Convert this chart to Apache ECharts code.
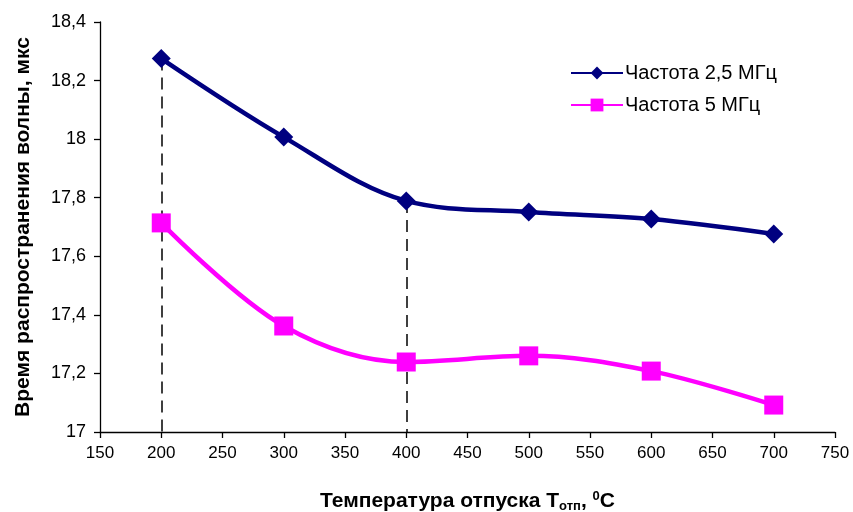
<!DOCTYPE html>
<html><head><meta charset="utf-8">
<script src="https://cdn.jsdelivr.net/npm/echarts@6/dist/echarts.min.js"></script>
<style>html,body{margin:0;padding:0;background:#fff}#c{width:853px;height:512px}</style>
</head><body><div id="c"></div>
<script>
const temps = [200, 300, 400, 500, 600, 700];
const freq25 = [18.275, 18.007, 17.789, 17.751, 17.727, 17.676];
const freq5 = [17.714, 17.362, 17.239, 17.26, 17.208, 17.092];
const seriesNames = ['Частота 2,5 МГц', 'Частота 5 МГц'];
const dashedAt = [200, 400];
const yMin = 17;

const chart = echarts.init(document.getElementById('c'));
const font = 'Liberation Sans, Arial, sans-serif';
const fmt = v => String(Math.round(v * 10) / 10).replace('.', ',');
const dashLines = dashedAt.map(x => {
  const i = temps.indexOf(x);
  return [{coord: [x, freq25[i]]}, {coord: [x, yMin]}];
});
chart.setOption({
  animation: false,
  textStyle: {fontFamily: font},
  grid: {left: 100, top: 22, right: 18, bottom: 80, outerBoundsMode: 'none', containLabel: false},
  legend: {
    left: 570, top: 63, orient: 'vertical', itemGap: 12, padding: 0,
    itemWidth: 52, itemHeight: 16,
    textStyle: {fontSize: 20, color: '#000', fontFamily: font, padding: [0, 0, 0, -3]},
    data: seriesNames
  },
  xAxis: {
    type: 'value', min: 150, max: 750, interval: 50,
    axisLine: {lineStyle: {color: '#000', width: 1.3}},
    axisTick: {lineStyle: {color: '#000', width: 1.3}, length: 6},
    splitLine: {show: false},
    axisLabel: {color: '#000', fontSize: 17, margin: 13},
    name: 'Температура отпуска Т{sub|отп}, {sup|0}C',
    nameLocation: 'middle', nameGap: 58,
    nameTextStyle: {
      fontSize: 21, fontWeight: 'bold', color: '#000',
      rich: {
        sub: {fontSize: 13, fontWeight: 'bold', verticalAlign: 'bottom', padding: [10, 0, 0, 0]},
        sup: {fontSize: 13, fontWeight: 'bold', verticalAlign: 'top', padding: [0, 0, 10, 0]}
      }
    }
  },
  yAxis: {
    type: 'value', min: 17, max: 18.4, interval: 0.2,
    axisLine: {show: true, lineStyle: {color: '#000', width: 1.3}},
    axisTick: {show: true, lineStyle: {color: '#000', width: 1.3}, length: 6},
    splitLine: {show: false},
    axisLabel: {color: '#000', fontSize: 18, margin: 14, formatter: fmt},
    name: 'Время распространения волны, мкс',
    nameLocation: 'middle', nameGap: 66, nameRotate: 90,
    nameTextStyle: {fontSize: 21, fontWeight: 'bold', color: '#000'}
  },
  series: [
    {
      name: seriesNames[0], type: 'line', smooth: 0.35,
      data: temps.map((t, i) => [t, freq25[i]]),
      symbol: 'diamond', symbolSize: 19,
      itemStyle: {color: '#000080'},
      lineStyle: {color: '#000080', width: 4.5},
      z: 3,
      markLine: {
        silent: true, symbol: 'none', label: {show: false},
        lineStyle: {color: '#000', type: [12, 7], width: 1.5},
        data: dashLines, z: 1
      }
    },
    {
      name: seriesNames[1], type: 'line', smooth: 0.35,
      data: temps.map((t, i) => [t, freq5[i]]),
      symbol: 'rect', symbolSize: 19,
      itemStyle: {color: '#ff00ff'},
      lineStyle: {color: '#ff00ff', width: 4.5},
      z: 3
    }
  ]
});
</script></body></html>
